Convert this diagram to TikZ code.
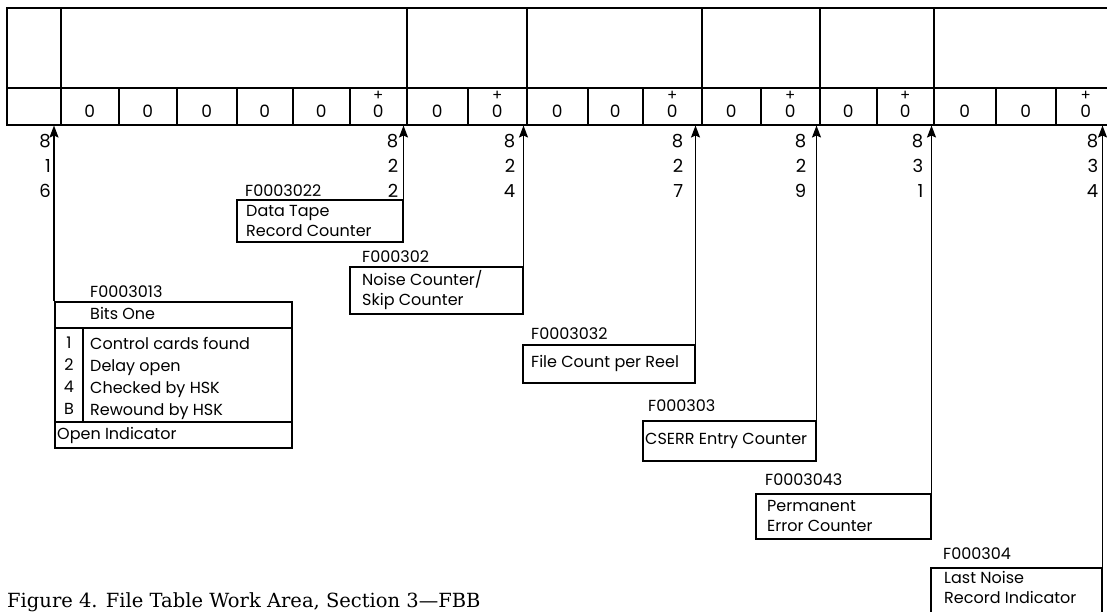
\documentclass[tikz,border=0pt]{standalone}
\usepackage{fontspec}
\setmainfont{Poppins}
\newfontfamily\captionserif{DejaVu Serif}
\usetikzlibrary{
    arrows.meta,
    positioning
}

\begin{document}
\begin{tikzpicture}[
    x=1pt, y=-1pt,
    rule/.style={line width=1.5pt},
    topbox/.style={
        rectangle,
        draw=black,
        rule,
        anchor=north west,
        minimum height=80pt,
        inner sep=0pt
    },
    cellbox/.style={
        rectangle,
        draw=black,
        rule,
        anchor=north west,
        minimum height=37pt,
        inner sep=0pt,
        text height=23pt,
        text depth=0pt,
        font=\fontsize{17}{18}\selectfont
    },
    plus/.style={font=\fontsize{15}{15}\selectfont, inner sep=0pt},
    fieldbox/.style={
        rectangle,
        draw=black,
        rule,
        anchor=north west,
        inner sep=0pt
    },
    boxtext/.style={font=\fontsize{16}{20}\selectfont, align=left, inner sep=0pt},
    tag/.style={font=\fontsize{16}{18}\selectfont, inner sep=0pt, anchor=base west},
    addr/.style={font=\fontsize{18}{25}\selectfont, align=right, inner sep=0pt, anchor=north east},
    ptr/.style={rule, -{Stealth[length=12pt, width=9pt, inset=2pt]}}
]
\useasboundingbox (0,0) rectangle (1107,611);

% Work area, upper row
\foreach \l/\r [count=\i] in {6/60, 60/406, 406/526, 526/701, 701/819, 819/933, 933/1115} {
    \pgfmathsetmacro{\w}{\r-\l}
    \node[topbox, minimum width=\w pt] (u\i) at (\l,7) {};
}

% Work area, lower row (last field = 1 gets a plus sign)
\foreach \l/\r/\t/\p [count=\i] in {6/60/{}/0, 60/118/0/0, 118/176/0/0, 176/236/0/0,
        236/292/0/0, 292/349/0/0, 349/406/0/1, 406/467/0/0, 467/526/0/1,
        526/587/0/0, 587/642/0/0, 642/701/0/1, 701/760/0/0, 760/819/0/1,
        819/876/0/0, 876/933/0/1, 933/995/0/0, 995/1055/0/0, 1055/1115/0/1} {
    \pgfmathsetmacro{\w}{\r-\l}
    \node[cellbox, minimum width=\w pt] (c\i) at (\l,87) {\t};
    \ifnum\p=1 \node[plus] (p\i) at ([yshift=-9pt]c\i.north) {+}; \fi
}

% Bits One
\node[fieldbox, minimum width=237pt, minimum height=146pt] (bits) at (54,301) {};
\node[tag] (bitstag) at (90,297) {F0003013};
\draw[rule, line width=2.5pt] ([yshift=-27pt]bits.north west) -- ([yshift=-27pt]bits.north east);
\draw[rule] ([yshift=-121pt]bits.north west) -- ([yshift=-121pt]bits.north east);
\draw[rule] ([xshift=29pt, yshift=-27pt]bits.north west) -- ([xshift=29pt, yshift=-121pt]bits.north west);
\node[boxtext, anchor=west] (bitshead) at (90,313) {Bits One};
\node[boxtext, anchor=north, align=center, font=\fontsize{16}{22}\selectfont] (bitnums) at (69,337) {1\\2\\4\\B};
\node[boxtext, anchor=north west, font=\fontsize{16}{22}\selectfont] (bitlist) at (90,337)
    {Control cards found\\Delay open\\Checked by HSK\\Rewound by HSK};
\node[boxtext, anchor=west] (bitsfoot) at (57,435) {Open Indicator};

% Data tape record counter
\node[fieldbox, minimum width=166pt, minimum height=42pt] (tape) at (236,199) {};
\node[tag] (tapetag) at ([xshift=9pt, yshift=3pt]tape.north west) {F0003022};
\node[boxtext, right=10pt of tape.west] (tapetext) {Data Tape\\Record Counter};

% Noise / skip counter
\node[fieldbox, minimum width=173pt, minimum height=47pt] (noise) at (349,266) {};
\node[tag] (noisetag) at ([xshift=13pt, yshift=4pt]noise.north west) {F000302};
\node[boxtext, right=13pt of noise.west] (noisetext) {Noise Counter/\\Skip Counter};

% File count
\node[fieldbox, minimum width=172pt, minimum height=38pt] (count) at (522,344) {};
\node[tag] (counttag) at ([xshift=9pt, yshift=5pt]count.north west) {F0003032};
\node[boxtext, right=9pt of count.west] (counttext) {File Count per Reel};

% CSERR entries
\node[fieldbox, minimum width=173pt, minimum height=40pt] (cserr) at (642,420) {};
\node[tag] (cserrtag) at ([xshift=6pt, yshift=9pt]cserr.north west) {F000303};
\node[boxtext, right=3pt of cserr.west] (cserrtext) {CSERR Entry Counter};

% Permanent errors
\node[fieldbox, minimum width=175pt, minimum height=45pt] (perm) at (755,493) {};
\node[tag] (permtag) at ([xshift=10pt, yshift=8pt]perm.north west) {F0003043};
\node[boxtext, right=12pt of perm.west] (permtext) {Permanent\\Error Counter};

% Last noise record
\node[fieldbox, minimum width=171pt, minimum height=50pt] (last) at (930,567) {};
\node[tag] (lasttag) at ([xshift=13pt, yshift=8pt]last.north west) {F000304};
\node[boxtext, anchor=north west] (lasttext) at ([xshift=14pt, yshift=-4pt]last.north west)
    {Last Noise\\Record Indicator};

% Pointers up to the work area
\foreach \b/\a/\num/\gap in {bits/north west/{8\\1\\6}/3, tape/north east/{8\\2\\2}/5,
        noise/north east/{8\\2\\4}/8, count/north east/{8\\2\\7}/12,
        cserr/north east/{8\\2\\9}/10, perm/north east/{8\\3\\1}/8,
        last/north east/{8\\3\\4}/4} {
    \draw[ptr] (\b.\a) -- (\b.\a |- c1.south) coordinate (t\b);
    \node[addr, xshift=-\gap pt, yshift=-9pt] (a\b) at (t\b) {\num};
}

% Caption
\node[font={\captionserif\fontsize{19.5}{24}\selectfont}, anchor=base west, inner sep=0pt] (caption)
    at (7,607) {Figure 4. File Table Work Area, Section 3\textemdash FBB};

\end{tikzpicture}
\end{document}
